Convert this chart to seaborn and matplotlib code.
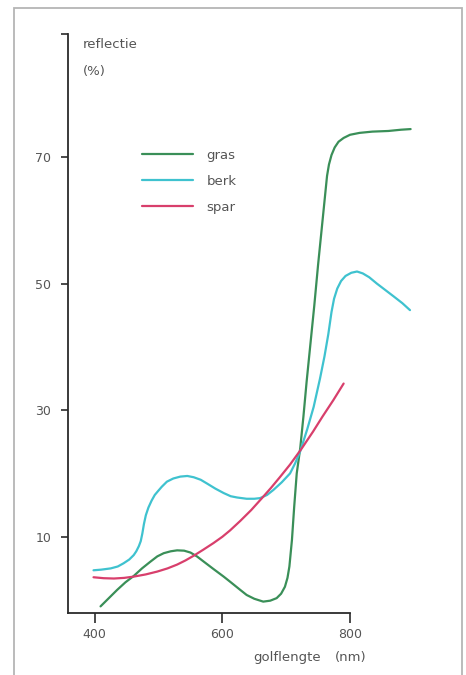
import numpy as np
import pandas as pd
import matplotlib
matplotlib.use("Agg")
import matplotlib.pyplot as plt
from matplotlib.patches import Rectangle
import seaborn as sns

# ---- data ----
gras_nm = [409, 422, 435, 448, 461, 474, 487, 498, 508, 519, 529, 540, 550, 560,
           571, 586, 602, 612, 628, 638, 650, 664, 675, 685, 692, 698, 702, 705,
           709, 712.5, 716.5, 722, 727, 732, 738, 744, 750, 756, 761, 764, 767,
           771, 776, 782, 790, 800, 815, 835, 860, 880, 895]
gras_pct = [-1.0, 0.3, 1.6, 2.8, 3.8, 5.0, 6.05, 6.9, 7.4, 7.7, 7.85, 7.8, 7.5, 6.9,
            6.05, 4.9, 3.7, 2.9, 1.6, 0.8, 0.2, -0.25, -0.1, 0.3, 1.0, 2.1, 3.5, 5.3,
            9.5, 14.7, 20.0, 24.0, 29.0, 34.5, 40.5, 46.5, 53.0, 59.0, 64.0, 67.0, 68.8,
            70.3, 71.5, 72.4, 73.0, 73.5, 73.8, 74.0, 74.1, 74.3, 74.4]

berk_nm = [398, 410, 425, 436, 445, 454, 461, 465, 469, 472, 474.5, 477, 480, 484,
           489, 494, 499, 505, 513, 523, 534, 545, 555, 566, 576, 589, 602, 613, 623,
           638, 650, 659, 670, 680, 693, 706, 714, 722, 733, 743, 753, 760, 766,
           771, 775, 780, 786, 793, 802, 811, 820, 830, 842, 855, 868, 882, 894]
berk_pct = [4.7, 4.8, 5.0, 5.3, 5.8, 6.4, 7.1, 7.7, 8.5, 9.3, 10.5, 12.0, 13.4, 14.6,
            15.7, 16.6, 17.2, 17.9, 18.7, 19.2, 19.5, 19.6, 19.4, 19.0, 18.4, 17.6, 16.9, 16.4, 16.2,
            16.0, 16.0, 16.1, 16.6, 17.4, 18.6, 20.0, 21.6, 23.5, 27.0, 30.5, 35.0, 38.5, 42.0,
            45.5, 47.6, 49.2, 50.4, 51.2, 51.7, 51.9, 51.6, 51.0, 50.0, 49.0, 48.0, 46.9, 45.8]

spar_nm = [398, 414, 430, 446, 461, 480, 498, 514, 529, 542, 555, 570, 586, 600,
           612, 628, 645, 662, 676, 690, 706, 724, 742, 757, 774, 790]
spar_pct = [3.6, 3.45, 3.4, 3.5, 3.7, 4.05, 4.5, 5.0, 5.6, 6.25, 7.0, 7.95, 9.0, 10.0,
            11.0, 12.5, 14.2, 16.1, 17.7, 19.4, 21.4, 23.9, 26.6, 29.0, 31.6, 34.2]

series_names = ["gras", "berk", "spar"]
series_colors = ["#3a8f58", "#3fc2cf", "#d83f6c"]
y_ticks = [10, 30, 50, 70]
x_ticks = [400, 600, 800]

df = pd.concat([
    pd.DataFrame({"golflengte": gras_nm, "reflectie": gras_pct, "soort": "gras"}),
    pd.DataFrame({"golflengte": berk_nm, "reflectie": berk_pct, "soort": "berk"}),
    pd.DataFrame({"golflengte": spar_nm, "reflectie": spar_pct, "soort": "spar"}),
], ignore_index=True)

sns.set_theme(style="white")
plt.rcParams["font.family"] = ["DejaVu Sans"]

W, H = 466, 675
TXT = "#555555"
fig = plt.figure(figsize=(W / 100, H / 100), dpi=100)
ax = fig.add_axes([68 / W, 1 - 612.7 / H, (417 - 68) / W, (612.7 - 33.5) / H])

sns.lineplot(data=df, x="golflengte", y="reflectie", hue="soort",
             hue_order=series_names, palette=series_colors, estimator=None,
             sort=True, linewidth=1.6, ax=ax, legend=True)

ax.set_xlim(358, 905)
ax.set_ylim(-2, 89.5)
ax.set_xlabel("")
ax.set_ylabel("")

for s in ["top", "right"]:
    ax.spines[s].set_visible(False)
axis_col = "#2b2b2b"
for s in ["left", "bottom"]:
    ax.spines[s].set_color(axis_col)
    ax.spines[s].set_linewidth(1.3)
ax.spines["bottom"].set_bounds(358, 800)

ax.set_xticks(x_ticks)
ax.set_xticklabels([str(v) for v in x_ticks])
ax.set_yticks(y_ticks)
ax.set_yticklabels([str(v) for v in y_ticks])
ax.set_yticks([89.5], minor=True)
ax.tick_params(axis="y", which="both", direction="out", length=5, width=1.2,
               color=axis_col, left=True, pad=7, labelsize=9, labelcolor=TXT)
ax.tick_params(axis="x", which="major", direction="out", length=7, width=1.2,
               color=axis_col, bottom=True, pad=4, labelsize=9, labelcolor=TXT)
ax.grid(False)

# legend
handles, labels = ax.get_legend_handles_labels()
leg = ax.legend(handles, labels, loc="upper left",
                bbox_to_anchor=(142 / W, 1 - 148.5 / H), bbox_transform=fig.transFigure,
                frameon=False, fontsize=9.5, handlelength=3.9, handletextpad=1.0,
                labelspacing=1.0, borderpad=0, borderaxespad=0)
for t in leg.get_texts():
    t.set_color(TXT)

# axis titles
fig.text(83 / W, 1 - 44 / H, "reflectie", fontsize=9.5, color=TXT, va="center", ha="left")
fig.text(83 / W, 1 - 72 / H, "(%)", fontsize=9.5, color=TXT, va="center", ha="left")
fig.text(253 / W, 1 - 657 / H, "golflengte", fontsize=9.5, color=TXT, va="center", ha="left")
fig.text(335 / W, 1 - 657 / H, "(nm)", fontsize=9.5, color=TXT, va="center", ha="left")

# page frame
fig.patches.append(Rectangle((14 / W, -0.02), (461.5 - 14) / W, 1.02 - 8 / H,
                             transform=fig.transFigure, fill=False,
                             edgecolor="#b5b5b5", linewidth=1.3))

fig.savefig("out.png", dpi=100)
